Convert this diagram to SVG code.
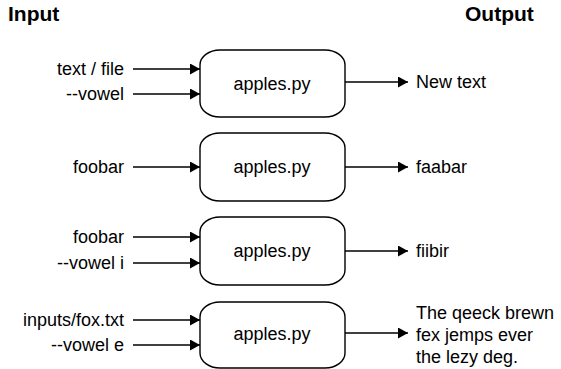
<svg xmlns="http://www.w3.org/2000/svg" width="561" height="369" viewBox="0 0 561 369">
<defs>
<marker id="ah" markerUnits="userSpaceOnUse" markerWidth="11" markerHeight="12" refX="10" refY="5.5" orient="auto">
<path d="M0,0 L10,5.5 L0,11 Z" fill="#000"/>
</marker>
<style>
text{font-family:"Liberation Sans",Arial,Helvetica,sans-serif;fill:#000}
.h{font-size:21px;font-weight:bold}
.t{font-size:18px}
.in{text-anchor:end}
.c{text-anchor:middle}
.box{fill:#fff;stroke:#000;stroke-width:1.4}
.ln{stroke:#000;stroke-width:1.3;fill:none;marker-end:url(#ah)}
</style>
</defs>
<rect width="561" height="369" fill="#fff"/>
<text class="h" x="8" y="21">Input</text>
<text class="h" x="465" y="21">Output</text>

<g id="connectors">
<line class="ln" x1="133" y1="69" x2="200" y2="69"/>
<line class="ln" x1="133" y1="94" x2="200" y2="94"/>
<line class="ln" x1="345" y1="82" x2="408" y2="82"/>
<line class="ln" x1="133" y1="167" x2="200" y2="167"/>
<line class="ln" x1="345" y1="167" x2="408" y2="167"/>
<line class="ln" x1="133" y1="237" x2="200" y2="237"/>
<line class="ln" x1="133" y1="263" x2="200" y2="263"/>
<line class="ln" x1="345" y1="251" x2="408" y2="251"/>
<line class="ln" x1="133" y1="320" x2="200" y2="320"/>
<line class="ln" x1="133" y1="345" x2="200" y2="345"/>
<line class="ln" x1="345" y1="333" x2="408" y2="333"/>
</g>

<g id="in1">
<text class="t in" x="124" y="75">text / file</text>
<text class="t in" x="124" y="100">--vowel</text>
</g>
<g id="box1">
<rect class="box" x="200" y="50" width="145" height="67" rx="20" ry="15"/>
<text class="t c" x="272" y="90">apples.py</text>
</g>
<g id="out1"><text class="t" x="416" y="88">New text</text></g>

<g id="in2"><text class="t in" x="124" y="173">foobar</text></g>
<g id="box2">
<rect class="box" x="200" y="133" width="145" height="68" rx="20" ry="15"/>
<text class="t c" x="272" y="173">apples.py</text>
</g>
<g id="out2"><text class="t" x="416" y="173">faabar</text></g>

<g id="in3">
<text class="t in" x="124" y="243">foobar</text>
<text class="t in" x="124" y="269">--vowel i</text>
</g>
<g id="box3">
<rect class="box" x="200" y="217" width="145" height="68" rx="20" ry="15"/>
<text class="t c" x="272" y="257">apples.py</text>
</g>
<g id="out3"><text class="t" x="416" y="257">fiibir</text></g>

<g id="in4">
<text class="t in" x="124" y="326">inputs/fox.txt</text>
<text class="t in" x="124" y="351">--vowel e</text>
</g>
<g id="box4">
<rect class="box" x="200" y="302" width="145" height="66" rx="20" ry="15"/>
<text class="t c" x="272" y="340">apples.py</text>
</g>
<g id="out4">
<text class="t" x="416" y="319">The qeeck brewn</text>
<text class="t" x="416" y="341">fex jemps ever</text>
<text class="t" x="416" y="363">the lezy deg.</text>
</g>
</svg>
